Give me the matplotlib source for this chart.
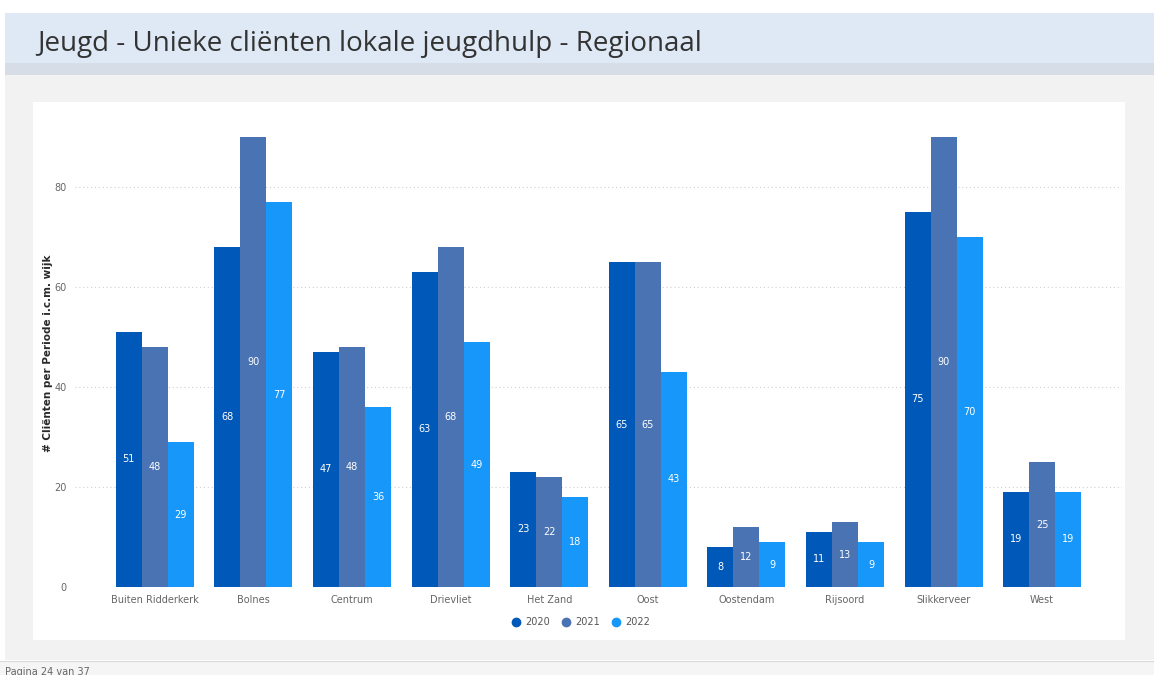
import matplotlib
matplotlib.use("Agg")
import matplotlib.pyplot as plt
from matplotlib.patches import Rectangle
from matplotlib.lines import Line2D
import numpy as np

categories = ["Buiten Ridderkerk", "Bolnes", "Centrum", "Drievliet", "Het Zand",
              "Oost", "Oostendam", "Rijsoord", "Slikkerveer", "West"]
years = ["2020", "2021", "2022"]
v2020 = [51, 68, 47, 63, 23, 65, 8, 11, 75, 19]
v2021 = [48, 90, 48, 68, 22, 65, 12, 13, 90, 25]
v2022 = [29, 77, 36, 49, 18, 43, 9, 9, 70, 19]
yticks = [0, 20, 40, 60, 80]

colors = ["#0058B8", "#4A73B3", "#1797FA"]
W, H = 1154, 675
fig = plt.figure(figsize=(W / 100, H / 100), dpi=100)
fig.patch.set_facecolor("white")

def rect(x0, y0, x1, y1, color):
    fig.patches.append(Rectangle((x0 / W, 1 - y1 / H), (x1 - x0) / W, (y1 - y0) / H,
                                 transform=fig.transFigure, facecolor=color,
                                 edgecolor="none", zorder=-10))

rect(5, 75, W, 660, "#F2F2F2")
rect(5, 13, W, 63, "#DEE9F5")
rect(5, 63, W, 75, "#D7DDE7")
rect(33, 102, 1125, 640, "#FFFFFF")
rect(0, 661, W, H, "#F5F5F5")
fig.lines.append(Line2D([0, 1], [1 - 661 / H] * 2, transform=fig.transFigure,
                        color="#DADADA", lw=0.8, zorder=-5))
fig.text(37 / W, 1 - 44 / H, "Jeugd - Unieke cliënten lokale jeugdhulp - Regionaal",
         fontsize=20, color="#333333", va="center", ha="left", family="Open Sans")
fig.text(5 / W, 1 - 672 / H, "Pagina 24 van 37", fontsize=7, color="#666666",
         va="center", ha="left")

ax = fig.add_axes([75 / W, 1 - 587 / H, (1122 - 75) / W, (587 - 120) / H])
ax.set_zorder(5)
ax.set_facecolor("none")
x = np.arange(len(categories))
bw = 0.264
series = [v2020, v2021, v2022]
for i, (vals, c, yr) in enumerate(zip(series, colors, years)):
    xs = x + (i - 1) * bw
    ax.bar(xs, vals, width=bw, color=c, label=yr, zorder=3)
    for xi, v in zip(xs, vals):
        ax.text(xi, v / 2, str(v), ha="center", va="center", color="white",
                fontsize=7, zorder=4)

ax.set_xlim(-0.81, 9.81)
ax.set_ylim(0, 93.4)
ax.set_yticks(yticks)
ax.set_xticks(x)
ax.set_xticklabels(categories)
ax.tick_params(axis="both", length=0, labelsize=7, colors="#666666")
ax.tick_params(axis="x", pad=6)
ax.tick_params(axis="y", pad=6)
ax.grid(axis="y", linestyle=(0, (1, 2.5)), color="#CFCFCF", lw=0.8, zorder=0)
for s in ax.spines.values():
    s.set_visible(False)
ax.set_ylabel("# Cliënten per Periode i.c.m. wijk", fontsize=7.5, color="#2A2A2A",
              labelpad=1, fontweight="semibold")

handles = [Line2D([], [], marker="o", linestyle="none", color=c, markersize=6)
           for c in colors]
fig.legend(handles, years, loc="center", bbox_to_anchor=(578 / W, 1 - 622 / H),
           ncol=3, frameon=False, fontsize=7, handletextpad=0.0, columnspacing=0.6,
           labelcolor="#555555")

fig.savefig("out.png", dpi=100)
